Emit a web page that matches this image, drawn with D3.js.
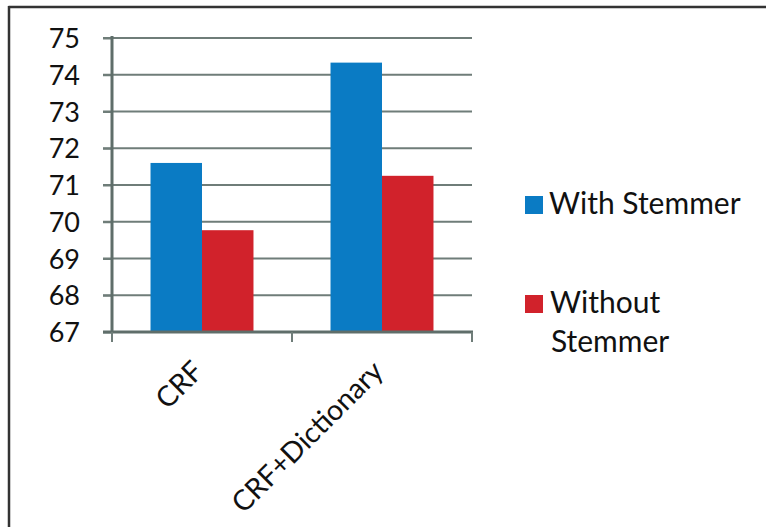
<!DOCTYPE html>
<html><head><meta charset="utf-8">
<script src="https://cdn.jsdelivr.net/npm/d3@7"></script>
<style>body{margin:0;background:#fff}svg{display:block}text{font-family:Lato,"Open Sans",sans-serif;fill:#111}</style>
</head><body>
<script>
const categories = ["CRF", "CRF+Dictionary"];
const seriesNames = ["With Stemmer", "Without Stemmer"];
const withStemmer = [71.6, 74.33];
const withoutStemmer = [69.77, 71.25];
const yTicks = [67, 68, 69, 70, 71, 72, 73, 74, 75];
const colors = ["#0a7bc4", "#d1222b"];

const W = 766, H = 527;
const svg = d3.select("body").append("svg").attr("width", W).attr("height", H);

// frame (top and left edges)
svg.append("line").attr("x1", 8.5).attr("x2", W).attr("y1", 7).attr("y2", 7).attr("stroke", "#333").attr("stroke-width", 2.5);
svg.append("line").attr("x1", 9).attr("x2", 9).attr("y1", 6).attr("y2", H).attr("stroke", "#333").attr("stroke-width", 2.5);

const y = d3.scaleLinear().domain([67, 75]).range([332, 38]);
const x0 = d3.scaleBand().domain(categories).range([112, 472]).paddingInner(0.428).paddingOuter(0.214);
const x1 = d3.scaleBand().domain(seriesNames).range([0, x0.bandwidth()]);

const grid = "#6f7d79";
// gridlines
svg.append("g").selectAll("line").data(yTicks.filter(t => t !== 67)).join("line")
  .attr("x1", 103).attr("x2", 472).attr("y1", d => y(d)).attr("y2", d => y(d))
  .attr("stroke", grid).attr("stroke-width", 2);

// y axis
const yAxis = svg.append("g").attr("transform", "translate(112,0)")
  .call(d3.axisLeft(y).tickValues(yTicks).tickSize(9).tickPadding(23).tickFormat(d3.format("d")));
yAxis.select(".domain").remove();
yAxis.selectAll(".tick line").attr("stroke", grid).attr("stroke-width", 2);
yAxis.selectAll(".tick text").attr("font-size", 27).attr("fill", "#111").attr("font-family", "Lato, 'Open Sans', sans-serif").attr("dy", "0.36em");
svg.append("line").attr("x1", 112).attr("x2", 112).attr("y1", 36).attr("y2", 333).attr("stroke", "#5f6e6a").attr("stroke-width", 3);

// bars
const data = categories.map((c, i) => ({cat: c, vals: [withStemmer[i], withoutStemmer[i]]}));
const groups = svg.append("g").selectAll("g").data(data).join("g")
  .attr("transform", d => `translate(${x0(d.cat)},0)`);
groups.selectAll("rect").data(d => d.vals.map((v, j) => ({name: seriesNames[j], v, j}))).join("rect")
  .attr("x", d => x1(d.name)).attr("width", x1.bandwidth())
  .attr("y", d => y(d.v)).attr("height", d => y(67) - y(d.v))
  .attr("fill", d => colors[d.j]);

// x axis
svg.append("line").attr("x1", 103).attr("x2", 473).attr("y1", 332).attr("y2", 332).attr("stroke", "#5f6e6a").attr("stroke-width", 3);
const bounds = [112, 112 + x0.step(), 112 + 2 * x0.step()];
svg.append("g").selectAll("line").data(bounds).join("line")
  .attr("x1", d => d).attr("x2", d => d).attr("y1", 332).attr("y2", 342)
  .attr("stroke", grid).attr("stroke-width", 2);
svg.append("g").selectAll("text").data(categories).join("text")
  .attr("transform", d => `translate(${x0(d) + x0.bandwidth() / 2 + 3},373) rotate(-45)`)
  .attr("text-anchor", "end").attr("font-size", 28.5).text(d => d);

// legend
svg.append("rect").attr("x", 525).attr("y", 196).attr("width", 18).attr("height", 18).attr("fill", colors[0]);
svg.append("text").attr("x", 549).attr("y", 214).attr("font-size", 30).text("With Stemmer");
svg.append("rect").attr("x", 525).attr("y", 295).attr("width", 18).attr("height", 18).attr("fill", colors[1]);
const t2 = svg.append("text").attr("x", 550).attr("y", 313).attr("font-size", 30);
t2.append("tspan").attr("x", 550).text("Without");
t2.append("tspan").attr("x", 551).attr("dy", 39).text("Stemmer");
</script>
</body></html>
